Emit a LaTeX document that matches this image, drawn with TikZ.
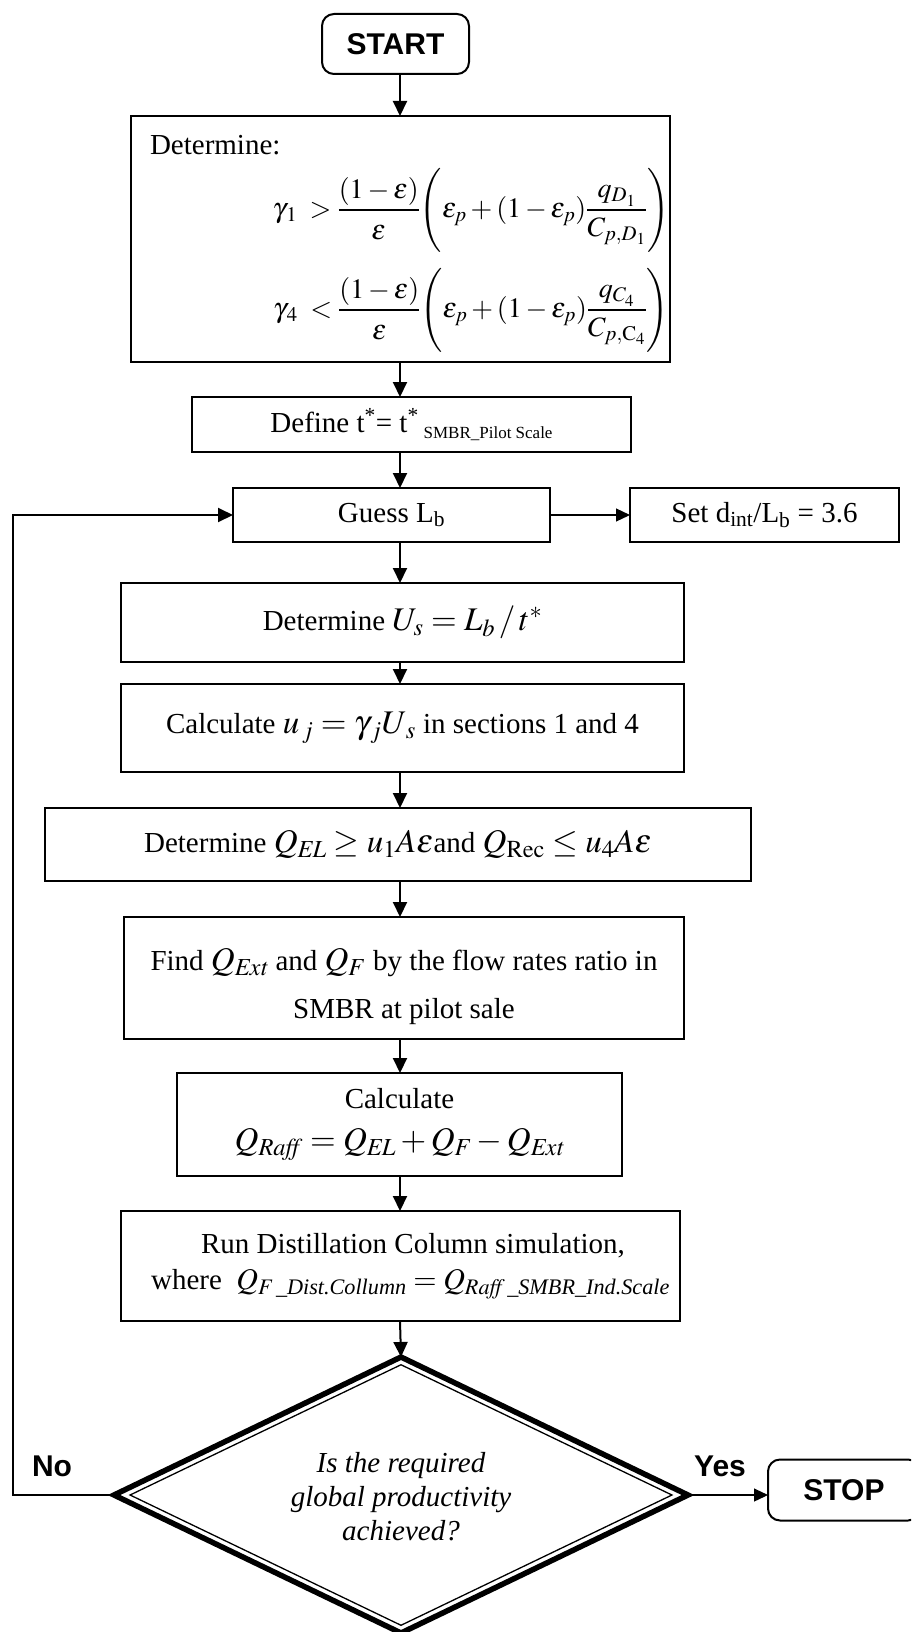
\documentclass[tikz,border=0pt]{standalone}
\usepackage{mathptmx}
\usepackage{amsmath}
\usepackage[no-math]{fontspec}
\setmainfont{Liberation Serif}
\newfontfamily\labelsans{Liberation Sans}
\usetikzlibrary{arrows.meta,calc}

% larger size used for the formulas inside the process boxes
\newcommand\eqsize{\fontsize{33}{38}\selectfont}
\newcommand\runeqsize{\fontsize{30}{35}\selectfont}

\begin{document}
\begin{tikzpicture}[x=1pt,y=-1pt,
  every node/.style={inner sep=0pt, outer sep=0pt},
  txt/.style={font=\fontsize{29}{34}\selectfont},
  procbox/.style={draw, line width=2.6pt, txt, align=center},
  termbox/.style={draw, line width=2pt, rounded corners=12pt,
    font=\labelsans\bfseries\fontsize{30}{36}\selectfont},
  flow/.style={line width=2pt, -{Triangle[length=15pt,width=14pt]}},
  thinflow/.style={line width=1.2pt, -{Triangle[length=14pt,width=13pt]}},
  tag/.style={font=\labelsans\bfseries\fontsize{30}{36}\selectfont},
]
\useasboundingbox (0,0) rectangle (911,1632);
\clip (0,0) rectangle (911,1632);

% trunk line and loop-back line positions
\coordinate (col) at (400,0);
\coordinate (loopx) at (13,0);

% terminator
\node[termbox, minimum width=147pt, minimum height=60pt] (start) at (395.5,44) {START};

% conditions on gamma
\node[procbox, minimum width=539pt, minimum height=246pt] (det) at (400.5,239) {};
\node[txt, anchor=base west] (detlbl) at (150,155) {Determine:};
\node[font=\fontsize{28}{34}\selectfont] (ineq1) at (471,210)
  {$\displaystyle \gamma_{\,1}\;> \frac{(1-\varepsilon)\rule[-8pt]{0pt}{8pt}}{\rule{0pt}{26pt}\varepsilon}\Biggl(\varepsilon_p + (1-\varepsilon_p)\frac{q_{D_1}}{C_{p,D_1}}\Biggr)$};
\node[font=\fontsize{28}{34}\selectfont] (ineq4) at (471,310)
  {$\displaystyle \gamma_{\,4}\;< \frac{(1-\varepsilon)\rule[-8pt]{0pt}{8pt}}{\rule{0pt}{26pt}\varepsilon}\Biggl(\varepsilon_p + (1-\varepsilon_p)\frac{q_{C_4}}{C_{p,\mathrm{C}_4}}\Biggr)$};

% process steps
\node[procbox, minimum width=439pt, minimum height=55pt] (def) at (411.5,424.5)
  {Define t\textsuperscript{*}= t\textsuperscript{*}\,\raisebox{-6pt}{\fontsize{17}{20}\selectfont SMBR\_Pilot Scale}};
\node[procbox, minimum width=317pt, minimum height=54pt] (guess) at (391.5,515)
  {Guess L\textsubscript{b}};
\node[procbox, minimum width=269pt, minimum height=54pt] (set) at (764.5,515)
  {Set d\textsubscript{int}/L\textsubscript{b} = 3.6};
\node[procbox, minimum width=563pt, minimum height=79pt] (us) at (402.5,622.5)
  {Determine {\eqsize $U_s = L_b\,/\,t^{*}$}};
\node[procbox, minimum width=563pt, minimum height=88pt] (uj) at (402.5,728)
  {Calculate {\eqsize $u_{\,j} = \gamma_{\,j} U_{\,s}$} in sections 1 and 4};
\node[procbox, minimum width=706pt, minimum height=73pt] (qel) at (398,844.5)
  {Determine {\eqsize $Q_{\mathit{EL}} \ge u_1 A\varepsilon$}and {\eqsize $Q_{\mathrm{Rec}} \le u_4 A\varepsilon$}};
\node[procbox, minimum width=560pt, minimum height=122pt] (find) at (404,978)
  {\rule{0pt}{40pt}Find {\eqsize $Q_{\mathit{Ext}}$} and {\eqsize $Q_F$} by the flow rates ratio in\\[14pt]
   SMBR at pilot sale};
\node[procbox, minimum width=445pt, minimum height=103pt] (raff) at (399.5,1124.5)
  {Calculate\\[8pt]
   {\eqsize $Q_{\mathit{Raff}} = Q_{\mathit{EL}} + Q_F - Q_{\mathit{Ext}}$}};
\node[procbox, align=left, minimum width=559pt, minimum height=110pt] (run) at (400.5,1266)
  {\hspace*{70pt}Run Distillation Column simulation,\\[2pt]
   \hspace*{20pt}where\ \ {\runeqsize $Q_{F\,\text{\itshape\_Dist.Collumn}} = Q_{\mathit{Raff}\,\text{\itshape\_SMBR\_Ind.Scale}}$}};

% decision
\coordinate (dq) at (401,1495);
\coordinate (dt) at (401,1357);
\coordinate (dr) at (688,1495);
\coordinate (db) at (401,1633);
\coordinate (dl) at (114,1495);
\draw[line width=5.5pt, line join=miter] (dt) -- (dr) -- (db) -- (dl) -- cycle;
\draw[line width=1.3pt, line join=miter]
  ($(dq)!0.944!(dt)$) -- ($(dq)!0.944!(dr)$) -- ($(dq)!0.944!(db)$) -- ($(dq)!0.944!(dl)$) -- cycle;
\node[font=\fontsize{29}{34}\selectfont\itshape, align=center] (q) at (401,1497)
  {Is the required\\ global productivity\\ achieved?};

\node[termbox, minimum width=152pt, minimum height=61pt] (stop) at (844,1490) {STOP};

% labels of the two exits
\node[tag] (no) at (52,1466) {No};
\node[tag] (yes) at (720,1466) {Yes};

% connectors
\draw[flow] (start.south -| col) -- (det.north -| col);
\draw[flow] (det.south -| col) -- (def.north -| col);
\draw[flow] (def.south -| col) -- (guess.north -| col);
\draw[thinflow] (guess.east) -- (set.west);
\draw[flow] (guess.south -| col) -- (us.north -| col);
\draw[flow] (us.south -| col) -- (uj.north -| col);
\draw[flow] (uj.south -| col) -- (qel.north -| col);
\draw[flow] (qel.south -| col) -- (find.north -| col);
\draw[flow] (find.south -| col) -- (raff.north -| col);
\draw[flow] (raff.south -| col) -- (run.north -| col);
\draw[flow] (run.south -| col) -- (dt);
\draw[thinflow] (dr) -- (dr -| stop.west);
\draw[flow] (dl) -- (dl -| loopx) |- (guess.west);
\end{tikzpicture}
\end{document}
